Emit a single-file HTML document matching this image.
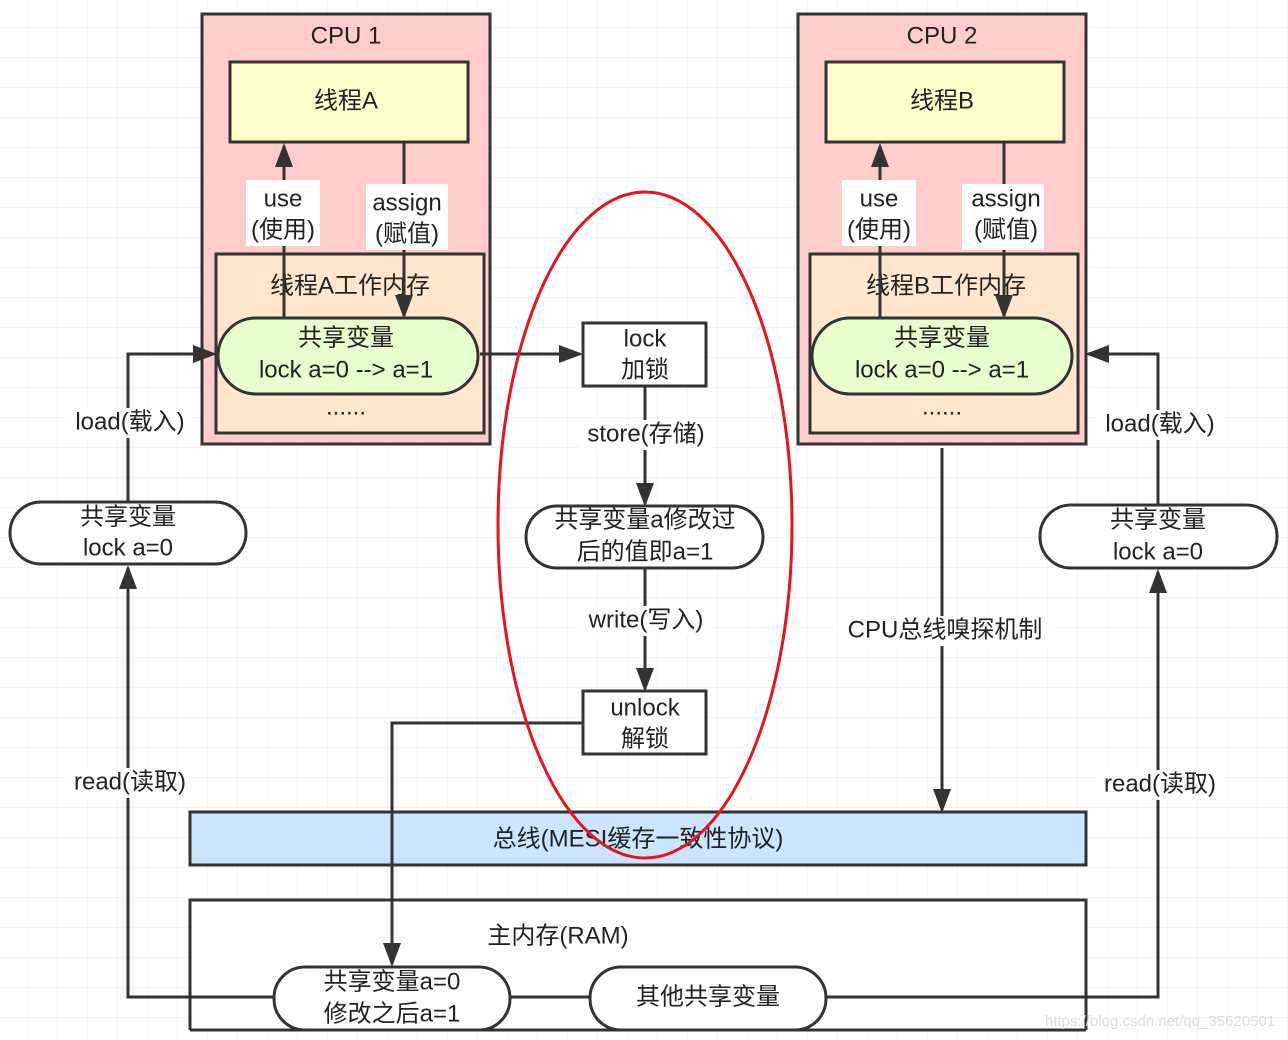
<!DOCTYPE html>
<html><head><meta charset="utf-8"><style>
html,body{margin:0;padding:0;background:#fff}
svg{display:block}
text{font-family:"Liberation Sans","Noto Sans CJK SC",sans-serif;fill:#222;font-size:24px;text-anchor:middle;dominant-baseline:middle}
</style></head><body>
<svg width="1288" height="1040" viewBox="0 0 1288 1040" xmlns="http://www.w3.org/2000/svg">
<defs>
<pattern id="g" width="30" height="30" patternUnits="userSpaceOnUse" x="-2" y="-2">
<path d="M30 0V30H0" fill="none" stroke="#ececec" stroke-width="1"/>
</pattern>
<marker id="a" markerWidth="8" markerHeight="6" refX="7" refY="3" orient="auto" markerUnits="strokeWidth">
<path d="M0,0 L8,3 L0,6 Z" fill="#333"/>
</marker>
</defs>
<rect width="1288" height="1040" fill="url(#g)"/>
<g stroke="#333" stroke-width="3">
<rect x="202" y="14" width="288" height="430" fill="#ffcccc"/>
<rect x="230" y="62" width="238" height="80" fill="#ffffcc"/>
<rect x="216" y="254" width="268" height="179" fill="#ffe6cc"/>
<rect x="798" y="14" width="288" height="430" fill="#ffcccc"/>
<rect x="826" y="62" width="238" height="80" fill="#ffffcc"/>
<rect x="810" y="254" width="268" height="179" fill="#ffe6cc"/>
</g>
<text x="346" y="37">CPU 1</text><text x="346" y="102">线程A</text><text x="350" y="287">线程A工作内存</text>
<text x="942" y="37">CPU 2</text><text x="942" y="102">线程B</text><text x="946" y="287">线程B工作内存</text>
<g stroke="#333" stroke-width="3" fill="none">
<line x1="284" y1="318" x2="284" y2="146" marker-end="url(#a)"/>
<line x1="404" y1="142" x2="404" y2="316" marker-end="url(#a)"/>
<line x1="880" y1="318" x2="880" y2="146" marker-end="url(#a)"/>
<line x1="1004" y1="142" x2="1004" y2="316" marker-end="url(#a)"/>
</g>
<rect x="246" y="180" width="74" height="66" fill="#fff"/><rect x="366" y="184" width="82" height="66" fill="#fff"/>
<rect x="842" y="180" width="74" height="66" fill="#fff"/><rect x="962" y="184" width="82" height="66" fill="#fff"/>
<text x="283" y="200">use</text><text x="283" y="231">(使用)</text>
<text x="407" y="204">assign</text><text x="407" y="235">(赋值)</text>
<text x="879" y="200">use</text><text x="879" y="231">(使用)</text>
<text x="1006" y="200">assign</text><text x="1006" y="231">(赋值)</text>
<g stroke="#333" stroke-width="3">
<rect x="218" y="318" width="260" height="76" rx="38" fill="#e6ffcc"/>
<rect x="812" y="318" width="260" height="76" rx="38" fill="#e6ffcc"/>
</g>
<text x="346" y="339">共享变量</text><text x="346" y="371">lock a=0 --&gt; a=1</text><text x="346" y="408">......</text>
<text x="942" y="339">共享变量</text><text x="942" y="371">lock a=0 --&gt; a=1</text><text x="942" y="408">......</text>
<g stroke="#333" stroke-width="3" fill="none">
<polyline points="128,502 128,354 214,354" marker-end="url(#a)"/>
<polyline points="1158,505 1158,354 1088,354" marker-end="url(#a)"/>
<polyline points="274,997 128,997 128,568" marker-end="url(#a)"/>
<polyline points="826,997 1158,997 1158,572" marker-end="url(#a)"/>
<line x1="510" y1="997" x2="590" y2="997"/>
<line x1="480" y1="354" x2="580" y2="354" marker-end="url(#a)"/>
<line x1="645" y1="386" x2="645" y2="504" marker-end="url(#a)"/>
<line x1="645" y1="568" x2="645" y2="689" marker-end="url(#a)"/>
<polyline points="583,723 392,723 392,964" marker-end="url(#a)"/>
<line x1="942" y1="448" x2="942" y2="810" marker-end="url(#a)"/>
</g>
<rect x="68" y="408" width="124" height="30" fill="#fff"/><text x="130" y="423">load(载入)</text>
<rect x="1098" y="410" width="124" height="30" fill="#fff"/><text x="1160" y="425">load(载入)</text>
<rect x="68" y="768" width="124" height="30" fill="#fff"/><text x="130" y="783">read(读取)</text>
<rect x="1096" y="770" width="126" height="30" fill="#fff"/><text x="1160" y="785">read(读取)</text>
<rect x="580" y="420" width="132" height="30" fill="#fff"/><text x="646" y="435">store(存储)</text>
<rect x="580" y="606" width="132" height="30" fill="#fff"/><text x="646" y="621">write(写入)</text>
<rect x="838" y="616" width="214" height="30" fill="#fff"/><text x="945" y="631">CPU总线嗅探机制</text>
<g stroke="#333" stroke-width="3">
<rect x="10" y="502" width="236" height="62" rx="31" fill="#fff"/>
<rect x="1040" y="505" width="237" height="63" rx="31" fill="#fff"/>
<rect x="583" y="323" width="123" height="63" fill="#fff"/>
<rect x="526" y="506" width="237" height="62" rx="31" fill="#fff"/>
<rect x="583" y="691" width="123" height="63" fill="#fff"/>
</g>
<text x="128" y="518">共享变量</text><text x="128" y="549">lock a=0</text>
<text x="1158" y="521">共享变量</text><text x="1158" y="553">lock a=0</text>
<text x="645" y="340">lock</text><text x="645" y="371">加锁</text>
<text x="645" y="521">共享变量a修改过</text><text x="645" y="553">后的值即a=1</text>
<text x="645" y="709">unlock</text><text x="645" y="740">解锁</text>
<rect x="190" y="812" width="896" height="53" fill="#cce5ff" stroke="#333" stroke-width="3"/>
<line x1="392" y1="812" x2="392" y2="865" stroke="#333" stroke-width="3"/>
<text x="638" y="840">总线(MESI缓存一致性协议)</text>
<path d="M190,1030 V900 H1086 V1030" fill="#fff" stroke="#333" stroke-width="3"/>
<line x1="190" y1="1030" x2="1086" y2="1030" stroke="#333" stroke-width="3"/>
<line x1="392" y1="900" x2="392" y2="964" stroke="#333" stroke-width="3" marker-end="url(#a)"/>
<line x1="128" y1="997" x2="274" y2="997" stroke="#333" stroke-width="3"/>
<line x1="826" y1="997" x2="1086" y2="997" stroke="#333" stroke-width="3"/>
<line x1="510" y1="997" x2="590" y2="997" stroke="#333" stroke-width="3"/>
<text x="558" y="937">主内存(RAM)</text>
<g stroke="#333" stroke-width="3" fill="#fff">
<rect x="274" y="967" width="236" height="63" rx="31"/>
<rect x="590" y="967" width="236" height="63" rx="31"/>
</g>
<text x="392" y="983">共享变量a=0</text><text x="392" y="1015">修改之后a=1</text>
<text x="708" y="998">其他共享变量</text>
<ellipse cx="645" cy="525" rx="147" ry="333" fill="none" stroke="#e8141c" stroke-width="3"/>
<text x="1160" y="1022" style="font-size:15px;fill:#ddd">https://blog.csdn.net/qq_35620501</text>
</svg>
</body></html>
